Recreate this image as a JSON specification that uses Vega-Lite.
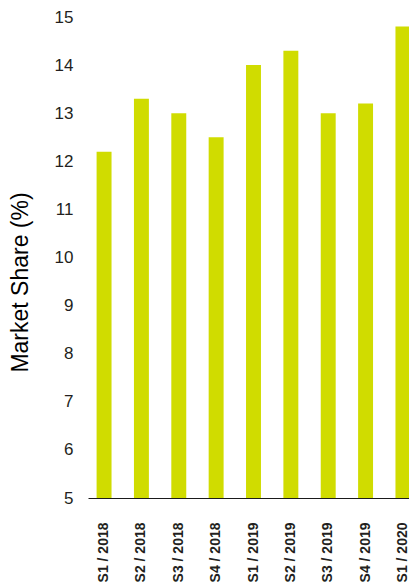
{
  "$schema": "https://vega.github.io/schema/vega-lite/v6.json",
  "autosize": "none",
  "padding": {"left": 88, "top": 17, "right": 0, "bottom": 87},
  "width": 331,
  "height": 481,
  "background": "white",
  "data": {
    "values": [
      {"period": "S1 / 2018", "share": 12.2},
      {"period": "S2 / 2018", "share": 13.3},
      {"period": "S3 / 2018", "share": 13.0},
      {"period": "S4 / 2018", "share": 12.5},
      {"period": "S1 / 2019", "share": 14.0},
      {"period": "S2 / 2019", "share": 14.3},
      {"period": "S3 / 2019", "share": 13.0},
      {"period": "S4 / 2019", "share": 13.2},
      {"period": "S1 / 2020", "share": 14.8}
    ]
  },
  "mark": {"type": "bar", "color": "#d0dc00", "clip": true},
  "encoding": {
    "x": {
      "field": "period",
      "type": "nominal",
      "sort": null,
      "scale": {"paddingInner": 0.6, "paddingOuter": 0.23},
      "axis": {
        "title": null,
        "labelAngle": 270,
        "labelAlign": "right",
        "labelBaseline": "middle",
        "labelPadding": 24,
        "labelFont": "Liberation Sans, Arial, sans-serif",
        "labelFontWeight": "bold",
        "labelFontSize": 14,
        "labelColor": "#231f20",
        "ticks": false,
        "domainColor": "#1a1a1a",
        "domainWidth": 1.2,
        "zindex": 1
      }
    },
    "y": {
      "field": "share",
      "type": "quantitative",
      "scale": {"domain": [5, 15], "nice": false, "zero": false},
      "axis": {
        "title": "Market Share (%)",
        "titleFont": "Liberation Sans, Arial, sans-serif",
        "titleFontWeight": "normal",
        "titleFontSize": 23,
        "titleColor": "#000000",
        "titleX": -56,
        "titleY": 265,
        "titleAngle": 270,
        "titleAlign": "center",
        "titleBaseline": "bottom",
        "values": [5, 6, 7, 8, 9, 10, 11, 12, 13, 14, 15],
        "grid": false,
        "domain": false,
        "ticks": false,
        "labelPadding": 15,
        "labelFont": "Liberation Sans, Arial, sans-serif",
        "labelFontSize": 17,
        "labelColor": "#231f20"
      }
    }
  },
  "config": {"view": {"stroke": null}}
}
